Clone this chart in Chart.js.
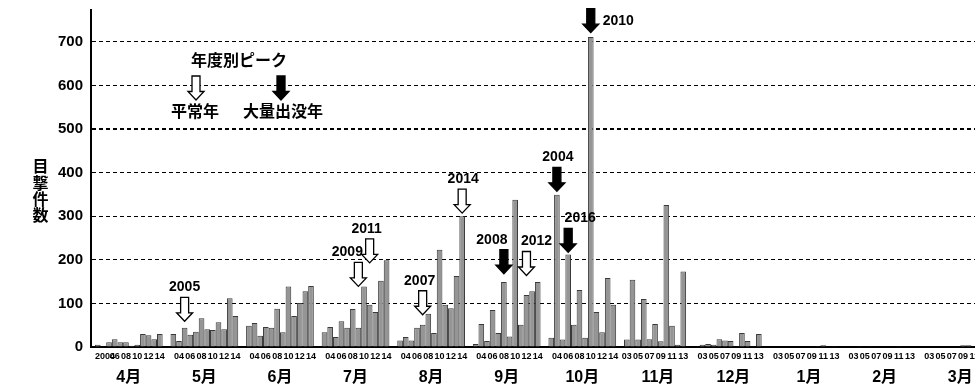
<!DOCTYPE html>
<html><head><meta charset="utf-8">
<script src="https://cdn.jsdelivr.net/npm/chart.js@4.4.1/dist/chart.umd.min.js"></script>
<style>html,body{margin:0;padding:0;overflow:hidden;background:#fff}#wrap{width:998px;height:387px}</style>
</head><body><div id="wrap"><canvas id="c" width="998" height="387"></canvas></div>
<script>
// ---- data ----
const months = ['4月','5月','6月','7月','8月','9月','10月','11月','12月','1月','2月','3月'];
const years = [2003,2004,2005,2006,2007,2008,2009,2010,2011,2012,2013,2014];
const apr = [5,0,11,18,11,11,3,5,30,27,18,30];
const may = [30,14,44,28,35,66,41,39,57,41,112,71];
const jun = [49,55,26,46,44,88,34,139,71,101,128,140];
const jul = [34,46,23,59,44,87,44,139,97,80,152,199];
const aug = [15,23,15,44,51,76,32,223,97,89,163,300];
const sep = [7,53,14,85,32,149,24,338,51,119,128,149];
const oct = [21,349,17,212,51,131,21,711,80,34,158,97];
const nov = [17,154,17,110,18,53,13,326,49,5,173,0];
const dec = [5,7,5,18,15,14,2,32,14,2,30,0];
const jan = [0,0,0,0,0,0,0,2,4,0,2,0];
const feb = [0,2,0,2,0,0,0,0,2,0,0,0];
const mar = [0,0,0,0,0,0,4,4,0,0,0,0];
const yTicks = [0,100,200,300,400,500,600,700];
const yMax = 773;
// year tick labels under bars (Apr-Oct: even years, Nov-Mar: odd years)
const yearLabelsA = ['','04','','06','','08','','10','','12','','14'];
const yearLabelsB = ['03','','05','','07','','09','','11','','13',''];
// peak annotations: label, month index, bar year, kind (mass = black), arrow tip value
const peakLabels = ['2005','2009','2011','2007','2014','2008','2012','2004','2016','2010'];
const peakMonth  = [1,3,3,4,4,5,5,6,6,6];
const peakBarYear= [2005,2009,2011,2007,2014,2008,2012,2004,2006,2010];
const peakMass   = [false,false,false,false,false,true,false,true,true,true];
const peakTip    = [59,139,193,74,307,168,164,357,217,721];
// ---- styles (label placement relative to arrow) ----
const peakDx = [0,-11,-3,-3,1,-12,10,1,12,0];
const peakSide = ['top','top','top','top','top','top','top','top','top','right'];

const monthData = [apr,may,jun,jul,aug,sep,oct,nov,dec,jan,feb,mar];
const datasets = years.map((y, yi) => ({
  label: String(y),
  data: monthData.map(a => a[yi]),
  backgroundColor: '#959595',
  borderColor: '#3a3a3a',
  borderWidth: 1,
  barPercentage: 1.0,
  categoryPercentage: 0.896
}));

const NUM = "'Liberation Sans', Arial, sans-serif";
const JP = "'Liberation Sans', 'Noto Sans CJK JP', sans-serif";

function drawArrow(ctx, x, yTop, filled) {
  const L = 24, sw = 8, hw = 16, hh = 8.5;
  const yTip = yTop + L;
  ctx.save();
  ctx.beginPath();
  ctx.moveTo(x - sw/2, yTop);
  ctx.lineTo(x + sw/2, yTop);
  ctx.lineTo(x + sw/2, yTip - hh);
  ctx.lineTo(x + hw/2, yTip - hh);
  ctx.lineTo(x, yTip);
  ctx.lineTo(x - hw/2, yTip - hh);
  ctx.lineTo(x - sw/2, yTip - hh);
  ctx.closePath();
  ctx.fillStyle = filled ? '#000' : '#fff';
  ctx.fill();
  ctx.lineWidth = 1.3; ctx.strokeStyle = '#000'; ctx.stroke();
  ctx.restore();
}

const extras = {
  id: 'extras',
  afterDraw(chart) {
    const ctx = chart.ctx;
    const ys = chart.scales.y;
    ctx.save();
    // year labels under bars
    ctx.fillStyle = '#000';
    ctx.font = 'bold 9px ' + NUM;
    ctx.textAlign = 'center';
    ctx.textBaseline = 'middle';
    months.forEach((m, mi) => {
      const labs = mi < 7 ? yearLabelsA : yearLabelsB;
      labs.forEach((t, yi) => {
        if (!t) return;
        const bar = chart.getDatasetMeta(yi).data[mi];
        const txt = (mi === 0 && yi === 1) ? '2004' : t;
        ctx.fillText(txt, bar.x + (txt.length > 2 ? 1.5 : 0), 357);
      });
    });
    // peak arrows
    ctx.font = 'bold 14px ' + NUM;
    peakLabels.forEach((lab, i) => {
      const yi = years.indexOf(peakBarYear[i]);
      const bar = chart.getDatasetMeta(yi).data[peakMonth[i]];
      const tip = ys.getPixelForValue(peakTip[i]);
      const top = tip - 24;
      drawArrow(ctx, bar.x, top, peakMass[i]);
      ctx.fillStyle = '#000';
      if (peakSide[i] === 'right') {
        ctx.textAlign = 'left';
        ctx.fillText(lab, bar.x + 12, top + 12);
      } else {
        ctx.textAlign = 'center';
        ctx.fillText(lab, bar.x + peakDx[i], top - 10);
      }
    });
    // legend
    ctx.font = 'bold 16px ' + JP;
    ctx.textAlign = 'center';
    ctx.fillText('年度別ピーク', 239, 62);
    drawArrow(ctx, 196, 76, false);
    drawArrow(ctx, 281, 76, true);
    ctx.fillText('平常年', 195, 113);
    ctx.fillText('大量出没年', 283, 113);
    // y axis title, stacked vertically
    ctx.font = 'bold 16px ' + JP;
    ['目','撃','件','数'].forEach((ch, i) => ctx.fillText(ch, 40.5, 168 + i * 16.3));
    ctx.restore();
  }
};

new Chart(document.getElementById('c'), {
  type: 'bar',
  data: { labels: months, datasets },
  options: {
    responsive: false,
    animation: false,
    layout: { padding: { top: 10, right: 0, left: 0, bottom: 0 } },
    plugins: { legend: { display: false }, tooltip: { enabled: false } },
    scales: {
      x: {
        grid: { display: false },
        border: { display: true, color: '#000', width: 2 },
        ticks: { color: '#000', font: { family: JP, size: 16, weight: 'bold' }, padding: 13, maxRotation: 0, autoSkip: false },
        afterFit: s => { s.height = 40; s.paddingLeft = 0; s.paddingRight = 0; }
      },
      y: {
        min: 0, max: yMax,
        afterBuildTicks: s => { s.ticks = yTicks.map(v => ({ value: v })); },
        grid: {
          drawTicks: false,
          color: c => (c.tick && c.tick.value === 0) ? 'rgba(0,0,0,0)' : '#000',
          lineWidth: c => (c.tick && c.tick.value === 500) ? 2 : 1
        },
        border: { display: true, color: '#000', width: 2, dash: [4, 3] },
        ticks: { color: '#000', font: { family: NUM, size: 15, weight: 'bold' }, padding: 8 },
        afterFit: s => { s.width = 91; s.paddingTop = 0; s.paddingBottom = 0; }
      }
    }
  },
  plugins: [extras]
});
</script></body></html>
